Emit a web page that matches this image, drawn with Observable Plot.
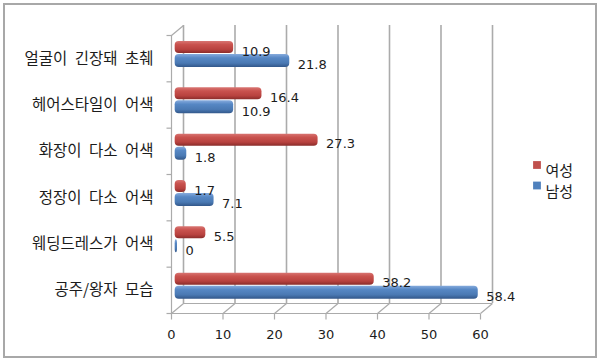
<!DOCTYPE html>
<html><head><meta charset="utf-8">
<script src="https://cdn.jsdelivr.net/npm/d3@7"></script>
<script src="https://cdn.jsdelivr.net/npm/@observablehq/plot@0.6"></script>
<style>
html,body{margin:0;padding:0;background:#fff;}
#wrap{position:relative;width:600px;height:363px;overflow:hidden;}
#border{position:absolute;left:3px;top:3px;width:590px;height:351px;border:2px solid #a8a8a8;pointer-events:none;}
#wrap svg{position:absolute;left:0;top:0;}
</style></head><body><div id="wrap"><div id="border"></div></div>
<script>
const categories = ["얼굴이 긴장돼 초췌", "헤어스타일이 어색", "화장이 다소 어색", "정장이 다소 어색", "웨딩드레스가 어색", "공주/왕자 모습"];
const female = [10.9, 16.4, 27.3, 1.7, 5.5, 38.2];
const male = [21.8, 10.9, 1.8, 7.1, 0, 58.4];
const seriesNames = ["여성", "남성"];
const xTicks = [0, 10, 20, 30, 40, 50, 60];

const W = 600, H = 363, mL = 177, mR = 114, mT = 30, mB = 55;
const pxX = (W - mL - mR) / 60;
const pxY = (H - mT - mB) / categories.length;
const ox = 6 / pxX, oy = 5 / pxY;

const rows = categories.map((c, i) => ({c, i, f: female[i], m: male[i]}));
const numFont = "DejaVu Sans";
const krFont = "Noto Sans CJK KR";
const textColor = "#1c1c1c";
const gridColor = "#ababab";

const legendMarks = seriesNames.flatMap((s, k) => [
  Plot.dot([s], {frameAnchor: "top-left", dx: 359.5, dy: 134.5 + k * 20.5, symbol: "square", r: 4.4, fill: k === 0 ? "#c0504d" : "#4f81bd", stroke: "none"}),
  Plot.text([s], {frameAnchor: "top-left", text: d => d, dx: 368, dy: 135 + k * 20.5, textAnchor: "start", fontSize: 15, fontFamily: krFont, fill: textColor})
]);

const chart = Plot.plot({
  width: W, height: H,
  marginLeft: mL, marginRight: mR, marginTop: mT, marginBottom: mB,
  x: {domain: [0, 60], axis: null},
  y: {domain: [0, categories.length], reverse: true, axis: null},
  style: {background: "transparent", fontFamily: krFont},
  marks: [
    Plot.ruleX(xTicks, {x: d => d, dx: 6, dy: -5, stroke: gridColor, strokeWidth: 1.6}),
    Plot.ruleY([categories.length], {y: d => d, dx: 6, dy: -5, stroke: gridColor, strokeWidth: 1.2}),
    Plot.link(xTicks, {x1: d => d - ox, y1: categories.length + oy, x2: d => d + ox, y2: categories.length - oy, stroke: gridColor, strokeWidth: 1.2}),
    Plot.link([0], {x1: -ox, y1: oy, x2: ox, y2: -oy, stroke: gridColor, strokeWidth: 1.2}),
    Plot.ruleX([0], {x: d => d, dx: -6, dy: 5, stroke: gridColor, strokeWidth: 1.2}),
    Plot.ruleY([categories.length], {y: d => d, dx: -6, dy: 5, stroke: gridColor, strokeWidth: 1.2}),
    Plot.link(d3.range(categories.length + 1), {x1: -ox - 5 / pxX, x2: -ox, y1: d => d + oy, y2: d => d + oy, stroke: gridColor, strokeWidth: 1.2}),
    Plot.link(xTicks, {x1: d => d - ox, x2: d => d - ox, y1: categories.length + oy, y2: categories.length + oy + 6 / pxY, stroke: gridColor, strokeWidth: 1.2}),
    Plot.rectX(rows, {x1: -0.45, x2: "f", y1: "i", y2: d => d.i + 1, insetTop: 11, insetBottom: pxY - 23, fill: "url(#gRed)", rx: 4}),
    Plot.rectX(rows, {x1: -0.45, x2: "m", y1: "i", y2: d => d.i + 1, insetTop: 24, insetBottom: pxY - 37, fill: "url(#gBlue)", rx: 4}),
    Plot.text(rows, {x: "f", y: "i", text: d => String(d.f), dx: 8, dy: 21, textAnchor: "start", fontSize: 13, fontFamily: numFont, fill: textColor}),
    Plot.text(rows, {x: "m", y: "i", text: d => String(d.m), dx: 8, dy: 34.5, textAnchor: "start", fontSize: 13, fontFamily: numFont, fill: textColor}),
    Plot.text(rows, {x: 0, y: d => d.i + 0.5, text: "c", dx: -24, dy: 5, textAnchor: "end", fontSize: 15.5, fontFamily: krFont, fill: textColor}),
    Plot.text(xTicks, {x: d => d, y: categories.length, text: d => String(d), dx: -6, dy: 26, textAnchor: "middle", fontSize: 13, fontFamily: numFont, fill: textColor}),
    ...legendMarks
  ]
});

const svg = d3.select(chart);
const defs = svg.insert("defs", ":first-child");
function grad(id, stops) {
  const g = defs.append("linearGradient").attr("id", id).attr("x1", 0).attr("y1", 0).attr("x2", 0).attr("y2", 1);
  stops.forEach(([o, c]) => g.append("stop").attr("offset", o).attr("stop-color", c));
}
grad("gRed", [["0%", "#d87572"], ["30%", "#c9524e"], ["70%", "#b8423f"], ["100%", "#8a2c2a"]]);
grad("gBlue", [["0%", "#86abdd"], ["30%", "#5687c4"], ["70%", "#4a79b3"], ["100%", "#32578a"]]);
svg.selectAll("text").filter(function(){ return categories.includes(this.textContent); }).style("word-spacing", "4px");
document.getElementById("wrap").appendChild(chart);
</script>
</body></html>
